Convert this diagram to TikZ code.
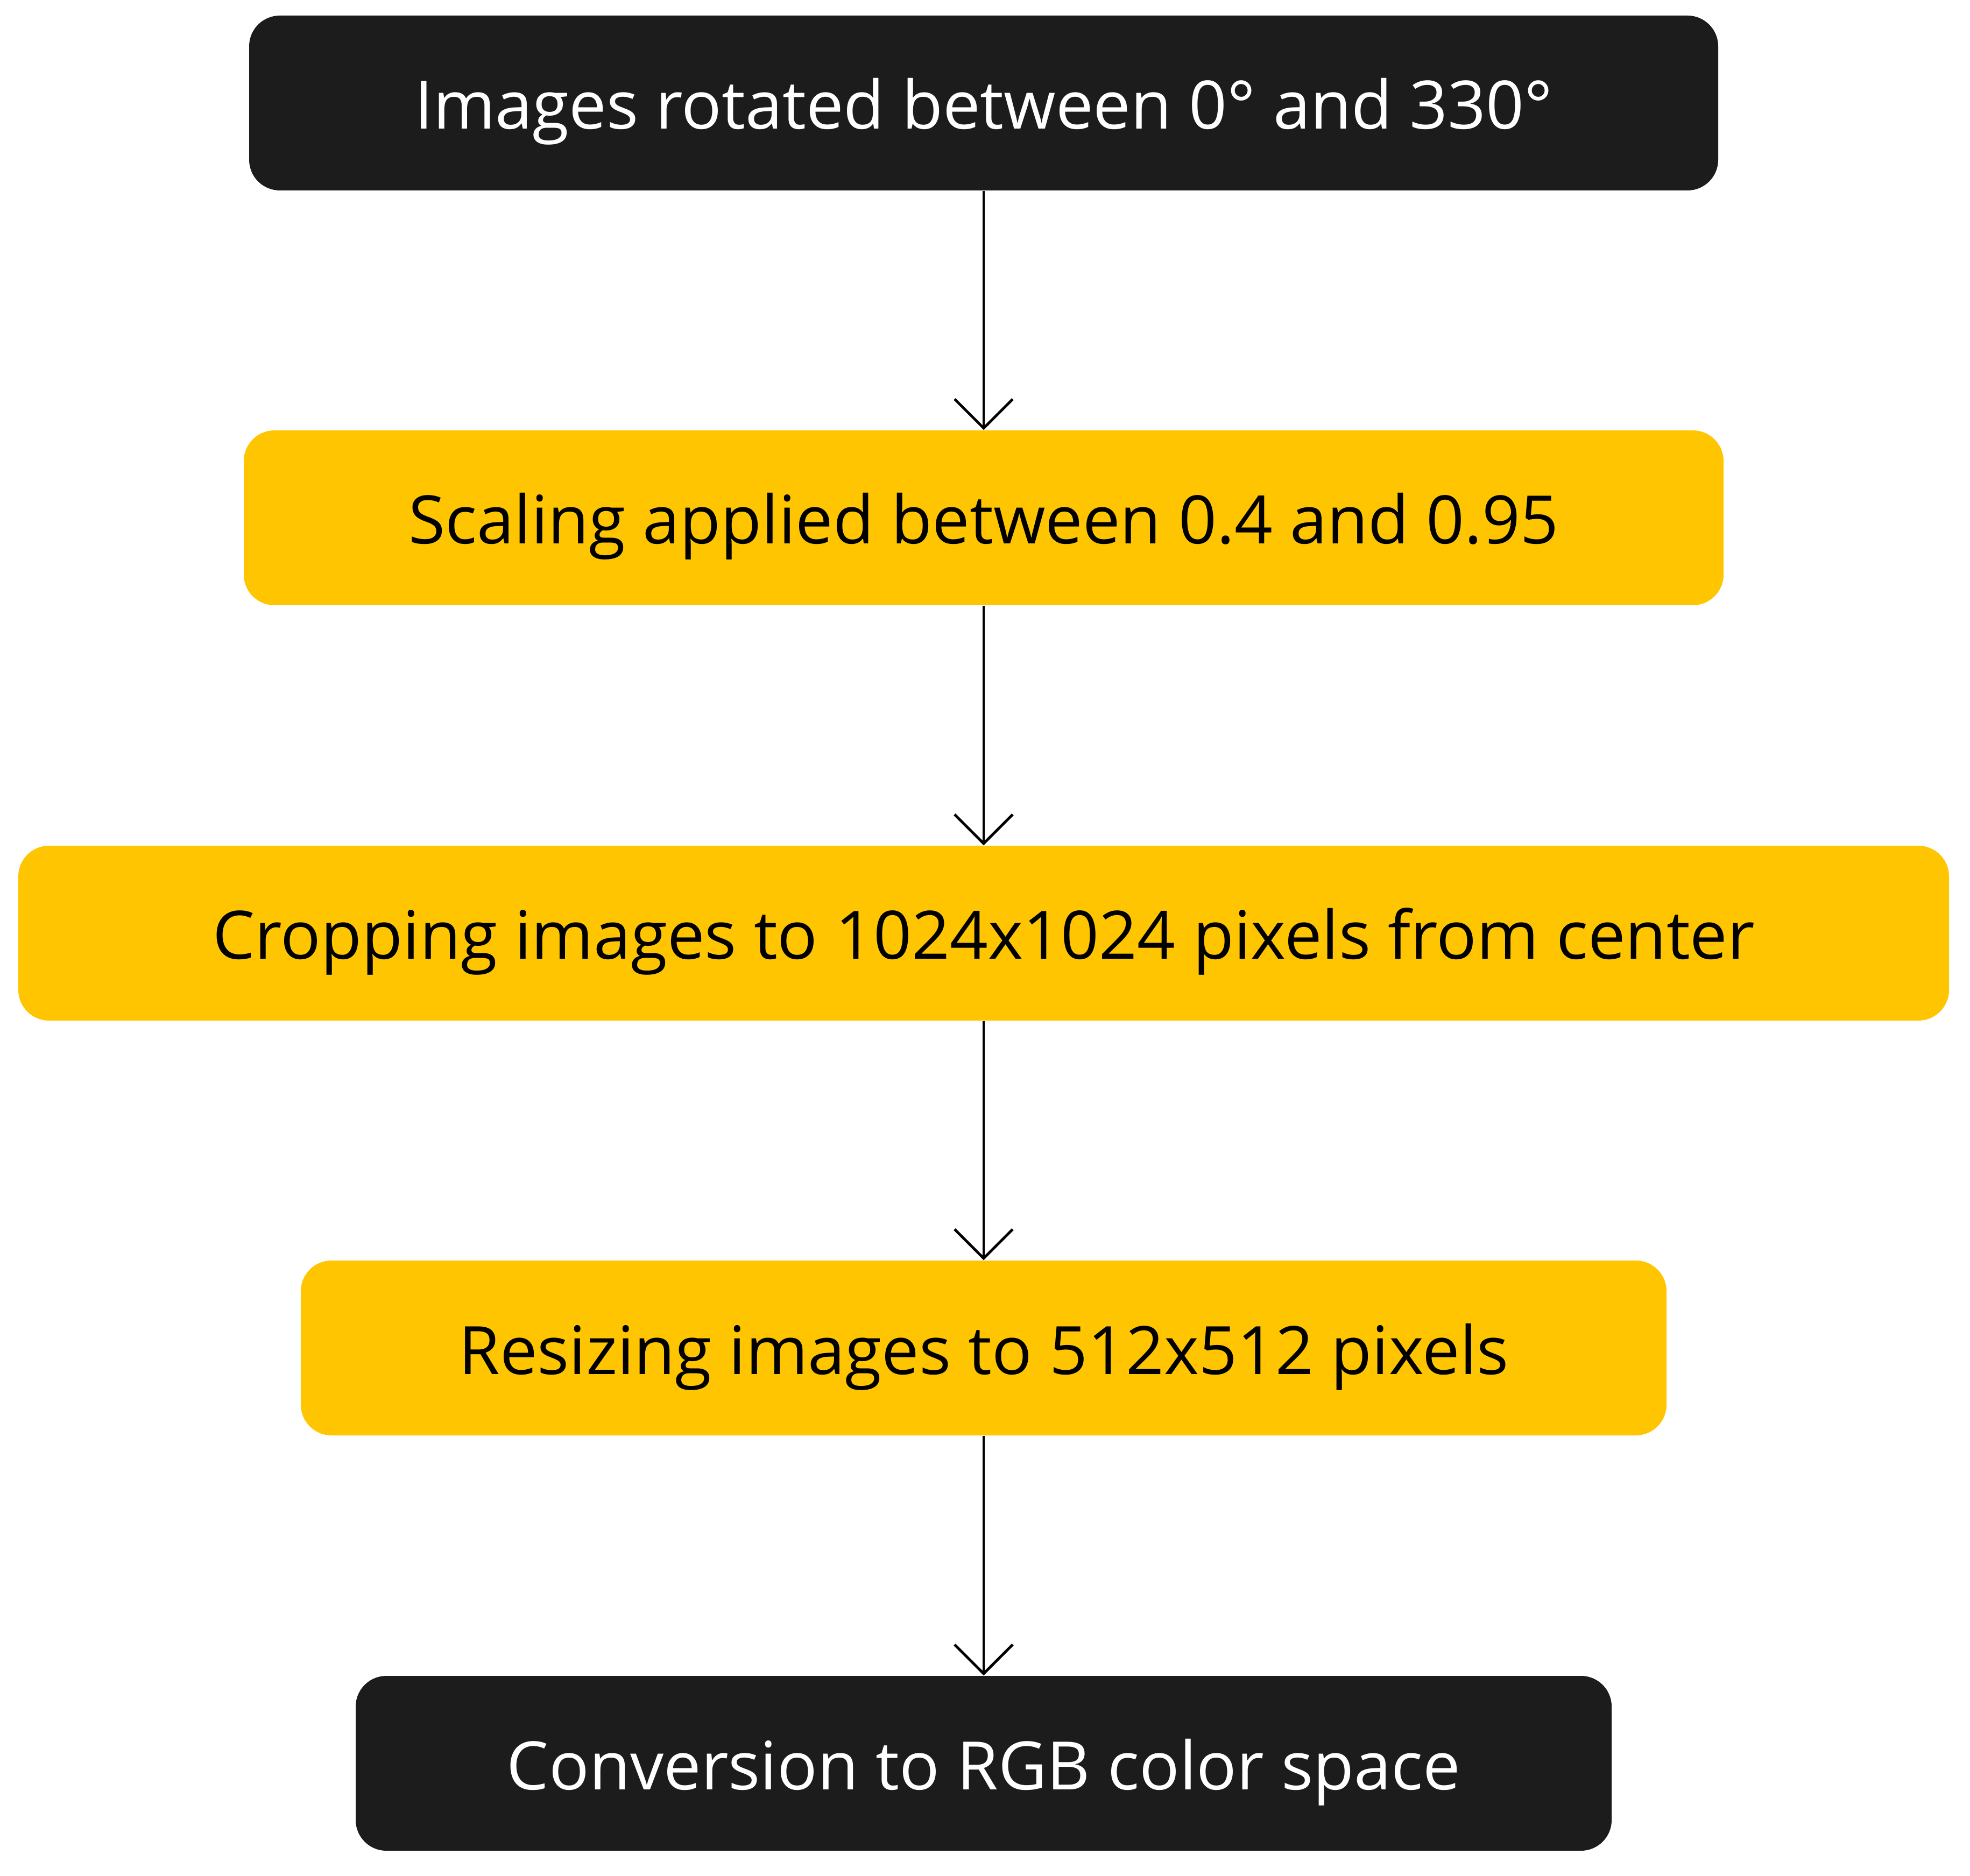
\documentclass[tikz,border=0pt]{standalone}
\usepackage{fontspec}
\setmainfont{Open Sans}
\usetikzlibrary{arrows.meta}
\definecolor{boxblack}{HTML}{1C1C1C}
\definecolor{boxyellow}{HTML}{FFC501}
\tikzset{
  stepbase/.style={rounded corners=0.57cm, inner sep=0pt, minimum height=3.25cm,
    text height=1.2cm, text depth=0.23cm,
    font=\fontsize{35.3}{42}\selectfont, anchor=center},
  darkbox/.style={stepbase, fill=boxblack, text=white},
  yellowbox/.style={stepbase, fill=boxyellow, text=black},
  flowarrow/.style={draw=black, line width=1.4pt,
    -{Straight Barb[length=5.4mm,width=10.8mm,line width=1.4pt]}}
}
\begin{document}
\begin{tikzpicture}
\useasboundingbox (0,0) rectangle (36.61,34.86);
\node[darkbox, minimum width=27.30cm] (b1) at (18.28,32.945) {Images rotated between 0° and 330°};
\node[yellowbox, minimum width=27.50cm] (b2) at (18.28,25.235) {Scaling applied between 0.4 and 0.95};
\node[yellowbox, minimum width=35.88cm] (b3) at (18.28,17.515) {Cropping images to 1024x1024 pixels from center};
\node[yellowbox, minimum width=25.38cm] (b4) at (18.28,9.805) {Resizing images to 512x512 pixels};
\node[darkbox, minimum width=23.34cm] (b5) at (18.28,2.085) {Conversion to RGB color space};
\draw[flowarrow] (b1.south) -- (b2.north);
\draw[flowarrow] (b2.south) -- (b3.north);
\draw[flowarrow] (b3.south) -- (b4.north);
\draw[flowarrow] (b4.south) -- (b5.north);
\end{tikzpicture}
\end{document}
